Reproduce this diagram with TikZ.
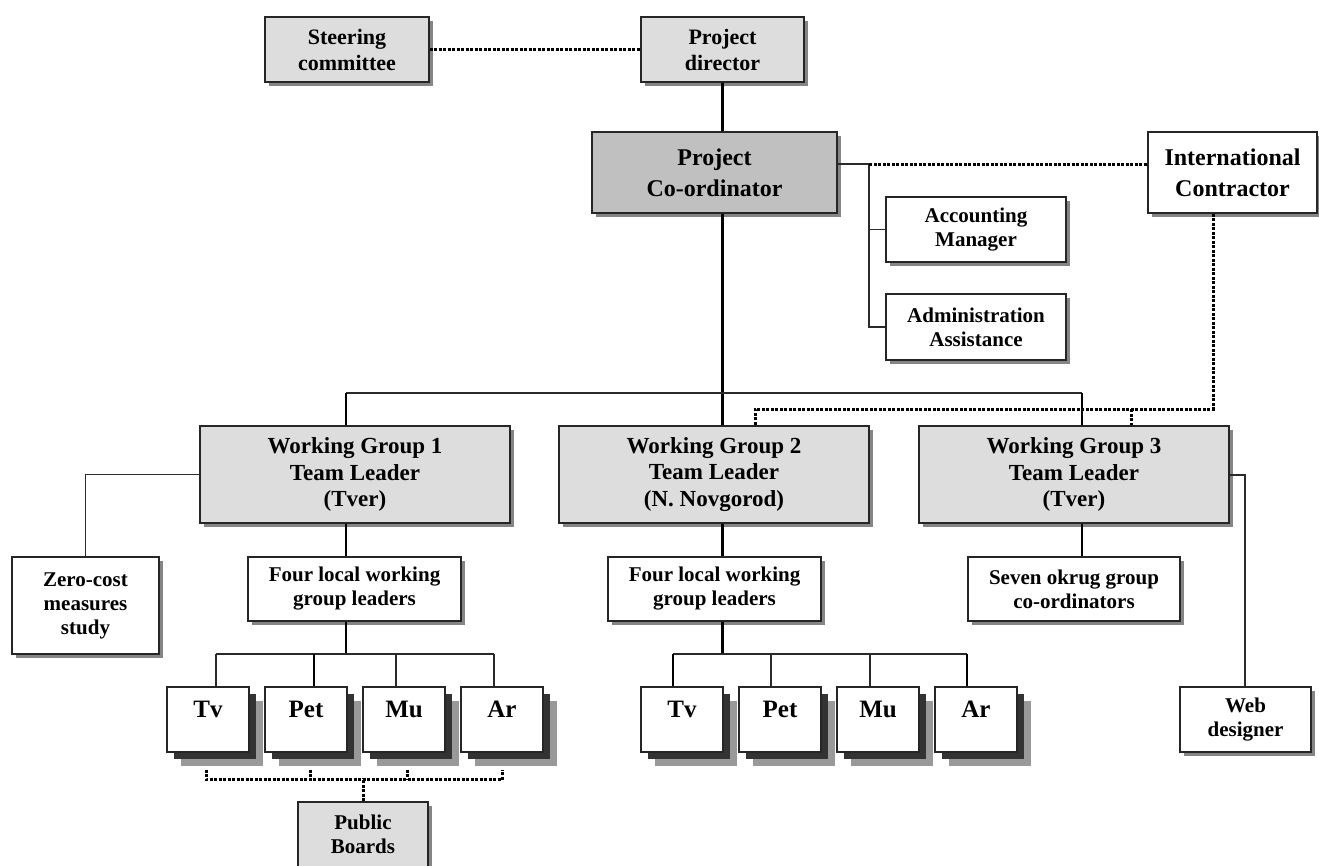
\documentclass[tikz,border=0pt]{standalone}
\usepackage{fontspec}
\setmainfont{Liberation Serif}
\usetikzlibrary{shadows}
\definecolor{lgray}{HTML}{DDDDDD}
\definecolor{mgray}{HTML}{C0C0C0}
\definecolor{shgray}{HTML}{858585}
\definecolor{shdark}{HTML}{333333}
\definecolor{shlight}{HTML}{999999}
\definecolor{linegray}{HTML}{2A2A2A}
\begin{document}
\begin{tikzpicture}[x=1pt,y=-1pt,
  basebox/.style={draw=black!85, line width=1.3pt, align=center, inner sep=0pt,
    font=\bfseries\fontsize{21}{24}\selectfont},
  box/.style={basebox, drop shadow={shadow xshift=4pt, shadow yshift=-4pt, fill=shgray, opacity=1}},
  graybox/.style={box, fill=lgray},
  whitebox/.style={box, fill=white},
  stackbox/.style={basebox, fill=white, minimum width=82pt, minimum height=65pt,
    font=\bfseries\fontsize{25}{28}\selectfont, text height=17pt, text depth=22pt,
    drop shadow={shadow xshift=14pt, shadow yshift=-14pt, fill=shlight, opacity=1},
    drop shadow={shadow xshift=7pt, shadow yshift=-7pt, fill=shdark, opacity=1}},
  thickline/.style={line width=2.8pt, black},
  thinline/.style={line width=1.4pt, linegray},
  dotline/.style={line width=3pt, black, dash pattern=on 3pt off 1.5pt}
]
\useasboundingbox (0,0) rectangle (1319,865);

% ---- nodes ----
\node[graybox, minimum width=164pt, minimum height=65pt, font=\bfseries\fontsize{22}{26}\selectfont] (steer) at (347,49.5) {Steering\\committee};
\node[graybox, minimum width=163pt, minimum height=65pt, font=\bfseries\fontsize{22}{26}\selectfont] (dir) at (722.5,49.5) {Project\\director};
\node[box, fill=mgray, minimum width=245pt, minimum height=81pt, font=\bfseries\fontsize{24}{31}\selectfont] (coord) at (714.5,172.5) {Project\\Co-ordinator};
\node[whitebox, minimum width=169pt, minimum height=81pt, font=\bfseries\fontsize{24}{31}\selectfont] (ic) at (1232.5,172.5) {International\\Contractor};
\node[whitebox, minimum width=180pt, minimum height=65pt] (acc) at (976,229.5) {Accounting\\Manager};
\node[whitebox, minimum width=180pt, minimum height=66pt] (adm) at (976,327) {Administration\\Assistance};

\node[graybox, minimum width=310pt, minimum height=97pt, font=\bfseries\fontsize{23}{26.5}\selectfont] (wg1) at (355,474.5) {Working Group 1\\Team Leader\\(Tver)};
\node[graybox, minimum width=310pt, minimum height=97pt, font=\bfseries\fontsize{23}{26.5}\selectfont] (wg2) at (714,474.5) {Working Group 2\\Team Leader\\(N. Novgorod)};
\node[graybox, minimum width=310pt, minimum height=97pt, font=\bfseries\fontsize{23}{26.5}\selectfont] (wg3) at (1074,474.5) {Working Group 3\\Team Leader\\(Tver)};

\node[whitebox, minimum width=147pt, minimum height=97pt] (zero) at (85.5,605.5) {Zero-cost\\measures\\study};
\node[whitebox, minimum width=213pt, minimum height=64pt] (fl1) at (354.5,589) {Four local working\\group leaders};
\node[whitebox, minimum width=213pt, minimum height=64pt] (fl2) at (714.5,589) {Four local working\\group leaders};
\node[whitebox, minimum width=212pt, minimum height=64pt] (seven) at (1074,589) {Seven okrug group\\co-ordinators};
\node[whitebox, minimum width=131pt, minimum height=65pt] (web) at (1245.5,719.5) {Web\\designer};

\node[stackbox] (a1) at (208,719.5) {Tv};
\node[stackbox] (a2) at (306,719.5) {Pet};
\node[stackbox] (a3) at (404,719.5) {Mu};
\node[stackbox] (a4) at (502,719.5) {Ar};
\node[stackbox] (b1) at (682,719.5) {Tv};
\node[stackbox] (b2) at (780,719.5) {Pet};
\node[stackbox] (b3) at (878,719.5) {Mu};
\node[stackbox] (b4) at (976,719.5) {Ar};

\node[graybox, minimum width=130pt, minimum height=65pt] (pub) at (363,834.5) {Public\\Boards};

% ---- junction coordinates ----
\coordinate (cj) at (869,164);
\coordinate (busL) at (346,393);
\coordinate (busR) at (1082,393);
\coordinate (icd) at (1213,409);
\coordinate (d2) at (755,409);
\coordinate (d3) at (1131,409);
\coordinate (wj) at (1245,475);
\coordinate (p1) at (216,654);
\coordinate (p2) at (314,654);
\coordinate (p3) at (396,654);
\coordinate (p4) at (494,654);
\coordinate (q1) at (673,654);
\coordinate (q2) at (771,654);
\coordinate (q3) at (870,654);
\coordinate (q4) at (967,654);
\coordinate (t1) at ([xshift=-2pt,yshift=-17pt]a1.south);
\coordinate (t2) at ([xshift=4pt,yshift=-17pt]a2.south);
\coordinate (t3) at ([xshift=3pt,yshift=-17pt]a3.south);
\coordinate (t4) at ([yshift=-17pt]a4.south);

% ---- connectors ----
\draw[dotline] (steer.east) -- (dir.west);
\draw[thickline] (dir.south) -- (dir.south |- coord.north);
\draw[thinline] (coord.east |- cj) -- (cj) -- (cj |- adm.west) -- (adm.west);
\draw[thinline] (cj |- acc.west) -- (acc.west);
\draw[dotline] (cj) -- (cj -| ic.west);

\draw[thickline] (dir.south |- coord.south) -- (dir.south |- wg2.north);
\draw[thinline] (busL) -- (busR);
\draw[thickline] (busL) -- (busL |- wg1.north);
\draw[thickline] (busR) -- (busR |- wg3.north);

\draw[dotline] (icd |- ic.south) -- (icd) -- (d2) -- (d2 |- wg2.north);
\draw[dotline] (d3) -- (d3 |- wg3.north);

\draw[thinline] (wg1.west) -- (wg1.west -| zero.north) -- (zero.north);
\draw[thinline] (wg3.east |- wj) -- (wj) -- (wj |- web.north);

% WG1 branch
\draw[thickline] (busL |- wg1.south) -- (busL |- fl1.north);
\draw[thickline] (busL |- fl1.south) -- (busL |- p1);
\draw[thinline] (p1) -- (p4);
\draw[thinline] (p1) -- (p1 |- a1.north);
\draw[thickline] (p2) -- (p2 |- a2.north);
\draw[thinline] (p3) -- (p3 |- a3.north);
\draw[thinline] (p4) -- (p4 |- a4.north);

% WG2 branch
\draw[thickline] (dir.south |- wg2.south) -- (dir.south |- fl2.north);
\draw[thickline] (dir.south |- fl2.south) -- (dir.south |- q1);
\draw[thinline] (q1) -- (q4);
\draw[thickline] (q1) -- (q1 |- b1.north);
\draw[thinline] (q2) -- (q2 |- b2.north);
\draw[thinline] (q3) -- (q3 |- b3.north);
\draw[thickline] (q4) -- (q4 |- b4.north);

% WG3 branch
\draw[thickline] (busR |- wg3.south) -- (busR |- seven.north);

% Public boards bracket
\draw[dotline] (t1) -- ++(0,10) -| (t4);
\draw[dotline] (t2) -- ++(0,10);
\draw[dotline] (t3) -- ++(0,10);
\draw[dotline] (pub.north) -- ++(0,-23);
\end{tikzpicture}
\end{document}
